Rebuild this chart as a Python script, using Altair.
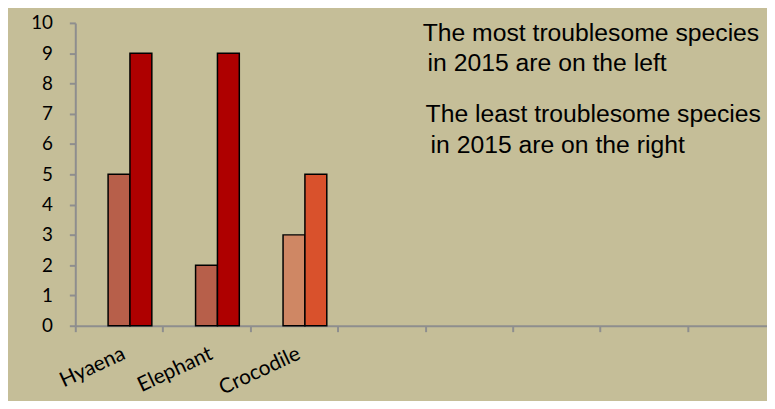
import altair as alt
import pandas as pd

# ---- data ----
categories = ["Hyaena", "Elephant", "Crocodile"]
blank_slots = [" ", "  ", "   ", "    ", "     "]   # five unlabeled categories
series_names = ["S1", "S2", "S3"]          # S1 is an empty series in the source chart
series_2 = [5, 2, 3]
series_3 = [9, 9, 5]
colors_2 = ["#B75F4A", "#B75F4A", "#CF8764"]
colors_3 = ["#AE0000", "#AE0000", "#D9512C"]
notes = [
    "The most troublesome species",
    "in 2015 are on the left",
    "The least troublesome species",
    "in 2015 are on the right",
]

rows = []
for c, v, col in zip(categories, series_2, colors_2):
    rows.append({"cat": c, "series": "S2", "amount": v, "color": col})
for c, v, col in zip(categories, series_3, colors_3):
    rows.append({"cat": c, "series": "S3", "amount": v, "color": col})
df = pd.DataFrame(rows)

AXIS_GRAY = "#8E8E8E"
LABEL_FONT = "Lato"
W = 699          # visible plot width (chart runs past the right edge)
RANGE = 707.2    # full band range of the 8 categories
H = 306
HALF_STEP = RANGE / 8 / 2

x_enc = alt.X(
    "cat:N",
    scale=alt.Scale(domain=categories + blank_slots, range=[0, RANGE],
                    paddingInner=0.25, paddingOuter=0.125),
    title=None,
    axis=alt.Axis(
        labelAngle=335,
        labelFont=LABEL_FONT,
        labelFontSize=21,
        labelColor="#000000",
        labelPadding=11,
        tickOffset=-HALF_STEP,
        labelOffset=HALF_STEP,
        tickSize=6,
        tickColor=AXIS_GRAY,
        tickWidth=2,
        domainColor=AXIS_GRAY,
        domainWidth=2,
        grid=False,
    ),
)

y_enc = alt.Y(
    "amount:Q",
    scale=alt.Scale(domain=[0, 10]),
    title=None,
    axis=alt.Axis(
        values=list(range(0, 11)),
        labelFont=LABEL_FONT,
        labelFontSize=19,
        labelColor="#000000",
        labelPadding=17,
        tickSize=6,
        tickColor=AXIS_GRAY,
        tickWidth=2,
        domainColor=AXIS_GRAY,
        domainWidth=2,
        grid=False,
    ),
)

bars = alt.Chart(df).mark_bar(stroke="#000000", strokeWidth=1.5).encode(
    x=x_enc,
    xOffset=alt.XOffset("series:N", scale=alt.Scale(domain=series_names)),
    y=y_enc,
    color=alt.Color("color:N", scale=None, legend=None),
)

note_pos = [(351, 18), (356, 49), (354, 100), (359, 131)]
texts = []
for t, (px, py) in zip(notes, note_pos):
    texts.append(
        alt.Chart(pd.DataFrame({"t": [t]})).mark_text(
            align="left", baseline="alphabetic", font="Liberation Sans", fontSize=25, color="#000000"
        ).encode(x=alt.value(px), y=alt.value(py), text="t:N")
    )

chart = alt.layer(bars, *texts).properties(
    width=W,
    height=H,
    background="#C5BE98",
    autosize=alt.AutoSizeParams(type="none"),
    padding={"left": 68, "top": 13, "right": 0, "bottom": 74},
).configure_view(strokeWidth=0)

chart.save("out.html", embed_options={"renderer": "svg", "actions": False})
